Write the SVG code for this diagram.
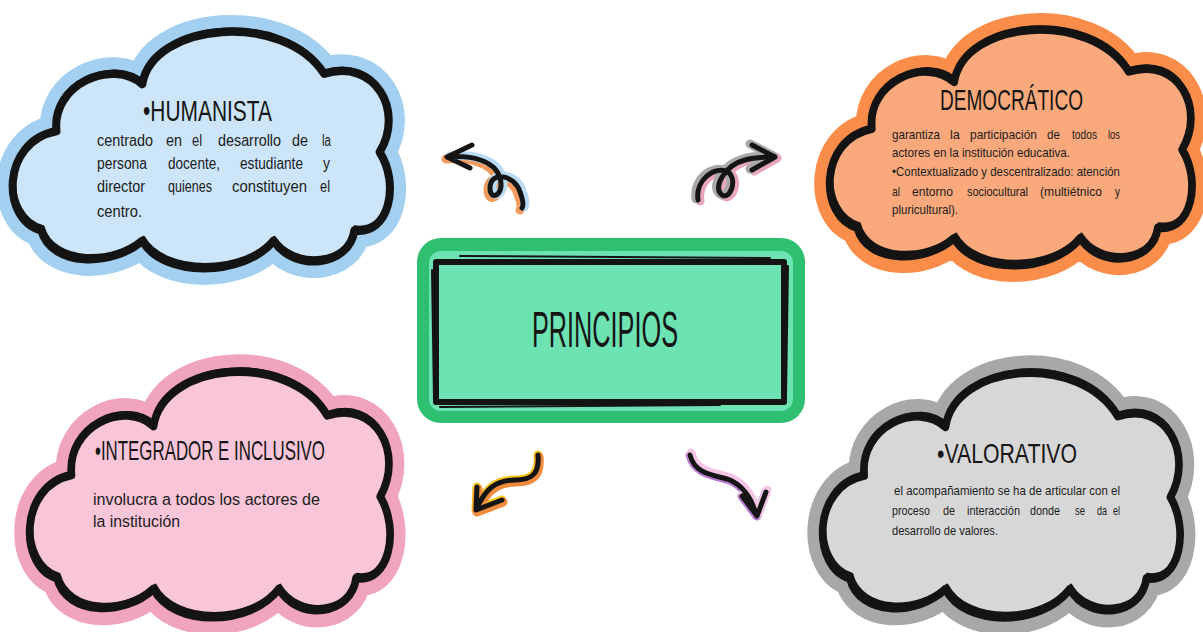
<svg xmlns="http://www.w3.org/2000/svg" xmlns:xlink="http://www.w3.org/1999/xlink" width="1203" height="632" viewBox="0 0 1203 632">
<style>
.halo{stroke-width:32;stroke-linejoin:round}
.outline{stroke:#141414;stroke-width:8;stroke-linejoin:round}
.sketch{fill:none;stroke:#141414;stroke-width:2.5;stroke-linejoin:round}
.title{font-family:"Liberation Sans",Arial,sans-serif;fill:#151515}
.body{font-family:"Liberation Sans",Arial,sans-serif;fill:#1c1c1c}
.ar{fill:none;stroke:#151515;stroke-width:5;stroke-linecap:round;stroke-linejoin:round}
.sh{fill:none;stroke-width:9;stroke-linecap:round;stroke-linejoin:round}
</style>
<defs>
<path id="cloud" d="M40 215 C0 205 0 130 55 120 C50 75 110 50 140 75 C150 15 280 5 320 65 C370 50 400 100 375 140 C395 170 385 220 350 215 C345 250 290 255 270 225 C240 260 160 260 140 225 C110 250 50 250 40 215 Z"/>
</defs>
<rect width="1203" height="632" fill="#ffffff"/>

<g id="humanista">
<use href="#cloud" class="halo" fill="#a3cff0" stroke="#a3cff0" transform="translate(0.9,5.9) scale(1.01,1.044)"/>
<use href="#cloud" class="outline" fill="#cde5f8" transform="translate(0.9,5.9) scale(1.01,1.044)"/>
<use href="#cloud" class="sketch" transform="translate(3,3) scale(1.005,1.04)"/>
<text class="title" x="143" y="121" font-size="30" textLength="129" lengthAdjust="spacingAndGlyphs">•HUMANISTA</text>
<text class="body" font-size="16" y="146"><tspan x="97" textLength="56" lengthAdjust="spacingAndGlyphs">centrado</tspan> <tspan x="166" textLength="16" lengthAdjust="spacingAndGlyphs">en</tspan> <tspan x="192" textLength="10" lengthAdjust="spacingAndGlyphs">el</tspan> <tspan x="218" textLength="63" lengthAdjust="spacingAndGlyphs">desarrollo</tspan> <tspan x="292" textLength="16" lengthAdjust="spacingAndGlyphs">de</tspan> <tspan x="322" textLength="9" lengthAdjust="spacingAndGlyphs">la</tspan></text>
<text class="body" font-size="16" y="169"><tspan x="97" textLength="50" lengthAdjust="spacingAndGlyphs">persona</tspan> <tspan x="168" textLength="52" lengthAdjust="spacingAndGlyphs">docente,</tspan> <tspan x="240" textLength="63" lengthAdjust="spacingAndGlyphs">estudiante</tspan> <tspan x="323" textLength="7" lengthAdjust="spacingAndGlyphs">y</tspan></text>
<text class="body" font-size="16" y="192"><tspan x="97" textLength="48" lengthAdjust="spacingAndGlyphs">director</tspan> <tspan x="168" textLength="44" lengthAdjust="spacingAndGlyphs">quienes</tspan> <tspan x="232" textLength="75" lengthAdjust="spacingAndGlyphs">constituyen</tspan> <tspan x="320" textLength="10" lengthAdjust="spacingAndGlyphs">el</tspan></text>
<text class="body" font-size="16" y="217"><tspan x="97" textLength="45" lengthAdjust="spacingAndGlyphs">centro.</tspan></text>
</g>

<g id="democratico">
<use href="#cloud" class="halo" fill="#fb8d4b" stroke="#fb8d4b" transform="translate(818.4,4) scale(0.97,1.04)"/>
<use href="#cloud" class="outline" fill="#f9a97b" transform="translate(818.4,4) scale(0.97,1.04)"/>
<use href="#cloud" class="sketch" transform="translate(821,1) scale(0.965,1.035)"/>
<text class="title" x="940" y="110" font-size="30" textLength="143" lengthAdjust="spacingAndGlyphs">DEMOCRÁTICO</text>
<text class="body" font-size="13.5" y="139"><tspan x="892" textLength="48" lengthAdjust="spacingAndGlyphs">garantiza</tspan> <tspan x="950" textLength="10" lengthAdjust="spacingAndGlyphs">la</tspan> <tspan x="970" textLength="67" lengthAdjust="spacingAndGlyphs">participación</tspan> <tspan x="1047" textLength="13" lengthAdjust="spacingAndGlyphs">de</tspan> <tspan x="1072" textLength="25" lengthAdjust="spacingAndGlyphs">todos</tspan> <tspan x="1108" textLength="12" lengthAdjust="spacingAndGlyphs">los</tspan></text>
<text class="body" font-size="13.5" x="892" y="157" textLength="178" lengthAdjust="spacingAndGlyphs">actores en la institución educativa.</text>
<text class="body" font-size="13.5" x="892" y="176" textLength="228" lengthAdjust="spacingAndGlyphs">•Contextualizado y descentralizado: atención</text>
<text class="body" font-size="13.5" y="196"><tspan x="892" textLength="8" lengthAdjust="spacingAndGlyphs">al</tspan> <tspan x="912" textLength="41" lengthAdjust="spacingAndGlyphs">entorno</tspan> <tspan x="967" textLength="61" lengthAdjust="spacingAndGlyphs">sociocultural</tspan> <tspan x="1040" textLength="62" lengthAdjust="spacingAndGlyphs">(multiétnico</tspan> <tspan x="1115" textLength="5" lengthAdjust="spacingAndGlyphs">y</tspan></text>
<text class="body" font-size="13.5" x="892" y="214" textLength="66" lengthAdjust="spacingAndGlyphs">pluricultural).</text>
</g>

<g id="integrador">
<use href="#cloud" class="halo" fill="#f1a4be" stroke="#f1a4be" transform="translate(18.4,344.9) scale(0.965,1.084)"/>
<use href="#cloud" class="outline" fill="#f9c6d9" transform="translate(18.4,344.9) scale(0.965,1.084)"/>
<use href="#cloud" class="sketch" transform="translate(21,342) scale(0.96,1.08)"/>
<text class="title" x="95" y="460" font-size="28" textLength="230" lengthAdjust="spacingAndGlyphs">•INTEGRADOR E INCLUSIVO</text>
<text class="body" font-size="16" x="93" y="505" textLength="227" lengthAdjust="spacingAndGlyphs">involucra a todos los actores de</text>
<text class="body" font-size="16" x="93" y="527" textLength="87" lengthAdjust="spacingAndGlyphs">la institución</text>
</g>

<g id="valorativo">
<use href="#cloud" class="halo" fill="#a8a8a8" stroke="#a8a8a8" transform="translate(811.5,346) scale(0.957,1.08)"/>
<use href="#cloud" class="outline" fill="#d7d7d7" transform="translate(811.5,346) scale(0.957,1.08)"/>
<use href="#cloud" class="sketch" transform="translate(814,343) scale(0.952,1.075)"/>
<text class="title" x="937" y="463" font-size="28" textLength="140" lengthAdjust="spacingAndGlyphs">•VALORATIVO</text>
<text class="body" font-size="13.5" x="894" y="495" textLength="226" lengthAdjust="spacingAndGlyphs">el acompañamiento se ha de articular con el</text>
<text class="body" font-size="13.5" y="515"><tspan x="892" textLength="38" lengthAdjust="spacingAndGlyphs">proceso</tspan> <tspan x="943" textLength="12" lengthAdjust="spacingAndGlyphs">de</tspan> <tspan x="967" textLength="53" lengthAdjust="spacingAndGlyphs">interacción</tspan> <tspan x="1030" textLength="30" lengthAdjust="spacingAndGlyphs">donde</tspan> <tspan x="1075" textLength="10" lengthAdjust="spacingAndGlyphs">se</tspan> <tspan x="1097" textLength="10" lengthAdjust="spacingAndGlyphs">da</tspan> <tspan x="1113" textLength="7" lengthAdjust="spacingAndGlyphs">el</tspan></text>
<text class="body" font-size="13.5" x="892" y="535" textLength="106" lengthAdjust="spacingAndGlyphs">desarrollo de valores.</text>
</g>

<g id="principios">
<rect x="417" y="238" width="388" height="185" rx="24" fill="#2fbf70"/>
<rect x="429" y="251" width="364" height="160" rx="12" fill="#6de3b3"/>
<rect x="436" y="262" width="348" height="140" fill="none" stroke="#141414" stroke-width="6" stroke-linejoin="round"/>
<path d="M460 256 L770 258 M432 270 L434 400 M440 407 L720 405 M788 266 L786 396" fill="none" stroke="#141414" stroke-width="2" stroke-linecap="round"/>
<text class="title" x="532" y="347" font-size="50" textLength="146" lengthAdjust="spacingAndGlyphs">PRINCIPIOS</text>
</g>

<g id="connectors">
<path class="sh" stroke="#f49a5a" transform="translate(-2,2)" d="M448 157 C470 155 495 160 500 178 C505 195 490 202 490 188 C490 170 515 175 520 192 C523 200 524 205 522 208"/>
<path class="sh" stroke="#b9dcf4" transform="translate(2,-1)" d="M448 157 C470 155 495 160 500 178 C505 195 490 202 490 188 C490 170 515 175 520 192 C523 200 524 205 522 208"/>
<path class="ar" d="M448 157 C470 155 495 160 500 178 C505 195 490 202 490 188 C490 170 515 175 520 192 C523 200 524 205 522 208 M472 145 L447 157 L470 168"/>

<path class="sh" stroke="#e8a6b8" transform="translate(2,1)" d="M698 200 C695 180 715 165 728 172 C738 180 730 200 722 195 C712 188 725 165 745 160 C755 157 765 157 773 157 M752 145 L775 157 L752 170"/>
<path class="sh" stroke="#a9a9a9" transform="translate(-2,-1)" d="M698 200 C695 180 715 165 728 172 C738 180 730 200 722 195 C712 188 725 165 745 160 C755 157 765 157 773 157 M752 145 L775 157 L752 170"/>
<path class="ar" d="M698 200 C695 180 715 165 728 172 C738 180 730 200 722 195 C712 188 725 165 745 160 C755 157 765 157 773 157 M752 145 L775 157 L752 170"/>

<path class="sh" stroke="#f5c518" stroke-width="12" d="M538 455 C540 475 530 480 515 480 C495 480 485 490 477 508 M477 487 L476 510 L502 500"/>
<path class="sh" stroke="#f08a3c" transform="translate(1,2)" d="M538 455 C540 475 530 480 515 480 C495 480 485 490 477 508 M477 487 L476 510 L502 500"/>
<path class="ar" d="M538 455 C540 475 530 480 515 480 C495 480 485 490 477 508 M477 487 L476 510 L502 500"/>

<path class="sh" stroke="#b878d6" stroke-width="12" d="M690 455 C695 475 715 475 730 480 C745 487 752 500 756 514 M742 496 L757 516 L766 492"/>
<path class="sh" stroke="#f3c6e6" transform="translate(1,-2)" d="M690 455 C695 475 715 475 730 480 C745 487 752 500 756 514 M742 496 L757 516 L766 492"/>
<path class="ar" d="M690 455 C695 475 715 475 730 480 C745 487 752 500 756 514 M742 496 L757 516 L766 492"/>
</g>
</svg>
